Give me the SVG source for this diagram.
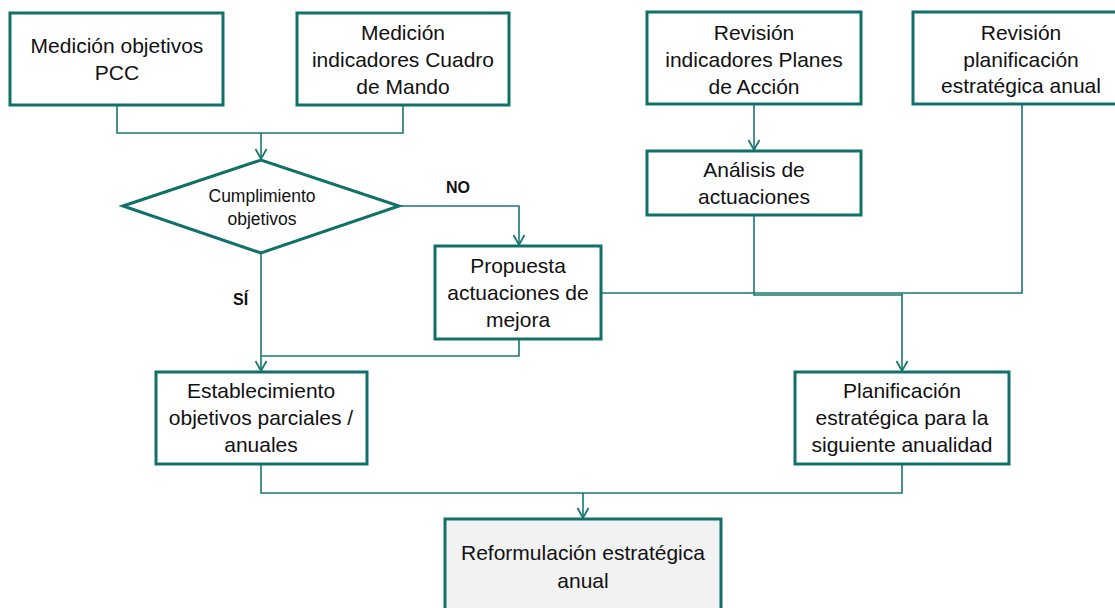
<svg xmlns="http://www.w3.org/2000/svg" width="1115" height="608" viewBox="0 0 1115 608">
<style>
.box{fill:#ffffff;stroke:#11716a;stroke-width:3}
.grey{fill:#f2f2f2}
.t{font-family:"Liberation Sans",Arial,sans-serif;font-size:21px;fill:#111;text-anchor:middle}
.s{font-size:17.5px}
.b{font-family:"Liberation Sans",Arial,sans-serif;font-size:16px;font-weight:bold;fill:#111}
.c{fill:none;stroke:#1a7770;stroke-width:1.6}
</style>
<defs>
<marker id="arr" viewBox="-12 -7 14 14" refX="0" refY="0" markerWidth="14" markerHeight="14" markerUnits="userSpaceOnUse" orient="auto">
<path d="M-10,-5.5 L0,0 L-10,5.5" fill="none" stroke="#1a7770" stroke-width="1.8"/>
</marker>
</defs>
<rect width="1115" height="608" fill="#ffffff"/>
<g id="connectors">
<path class="c" d="M117,106 V133 H403 V106"/>
<path class="c" d="M261,133 V159" marker-end="url(#arr)"/>
<path class="c" d="M399,206 H519 V245" marker-end="url(#arr)"/>
<path class="c" d="M261,253 V371" marker-end="url(#arr)"/>
<path class="c" d="M519,340 V356 H261"/>
<path class="c" d="M754,105 V150" marker-end="url(#arr)"/>
<path class="c" d="M602,293 H902"/>
<path class="c" d="M754,216 V295 H902"/>
<path class="c" d="M1022,105 V293 H902"/>
<path class="c" d="M902,293 V371" marker-end="url(#arr)"/>
<path class="c" d="M261,465 V493 H902 V465"/>
<path class="c" d="M583,493 V518" marker-end="url(#arr)"/>
</g>
<g id="n1"><rect class="box" x="10" y="13" width="213" height="92"/>
<text class="t" x="117" y="53">Medición objetivos</text><text class="t" x="117" y="80">PCC</text></g>
<g id="n2"><rect class="box" x="297" y="13" width="212" height="92"/>
<text class="t" x="403" y="40">Medición</text><text class="t" x="403" y="67">indicadores Cuadro</text><text class="t" x="403" y="94">de Mando</text></g>
<g id="n3"><rect class="box" x="647" y="12" width="214" height="92"/>
<text class="t" x="754" y="40">Revisión</text><text class="t" x="754" y="67">indicadores Planes</text><text class="t" x="754" y="94">de Acción</text></g>
<g id="n4"><rect class="box" x="913" y="12" width="216" height="92"/>
<text class="t" x="1021" y="40">Revisión</text><text class="t" x="1021" y="67">planificación</text><text class="t" x="1021" y="93">estratégica anual</text></g>
<g id="n5"><rect class="box" x="647" y="151" width="214" height="64"/>
<text class="t" x="754" y="177">Análisis de</text><text class="t" x="754" y="204">actuaciones</text></g>
<g id="n6"><polygon class="box" points="123,206 261,160 399,206 261,253"/>
<text class="t s" x="262" y="202">Cumplimiento</text><text class="t s" x="262" y="225">objetivos</text></g>
<g id="n7"><rect class="box" x="435" y="246" width="166" height="93"/>
<text class="t" x="518" y="273">Propuesta</text><text class="t" x="518" y="300">actuaciones de</text><text class="t" x="518" y="327">mejora</text></g>
<g id="n8"><rect class="box" x="156" y="372" width="211" height="92"/>
<text class="t" x="261" y="398">Establecimiento</text><text class="t" x="261" y="425">objetivos parciales /</text><text class="t" x="261" y="452">anuales</text></g>
<g id="n9"><rect class="box" x="795" y="372" width="214" height="92"/>
<text class="t" x="902" y="398">Planificación</text><text class="t" x="902" y="425">estratégica para la</text><text class="t" x="902" y="452">siguiente anualidad</text></g>
<g id="n10"><rect class="box grey" x="445" y="519" width="276" height="100"/>
<text class="t" x="583" y="560">Reformulación estratégica</text><text class="t" x="583" y="588">anual</text></g>
<g id="labels">
<text class="b" x="446" y="193">NO</text>
<text class="b" x="233" y="305">SÍ</text>
</g>
</svg>
